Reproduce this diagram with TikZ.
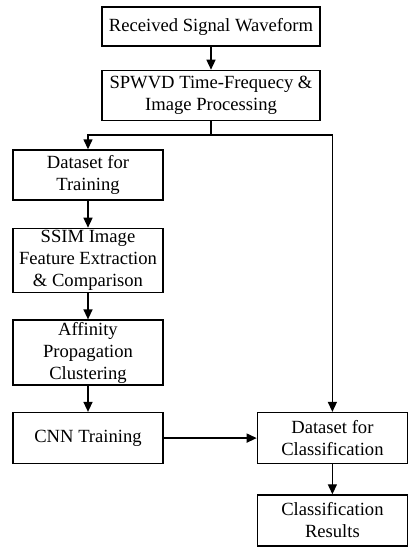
\documentclass[tikz,border=0pt]{standalone}
\usepackage{fontspec}
\setmainfont{Liberation Serif}
\usepackage{tikz}
\usetikzlibrary{arrows.meta,positioning}

\begin{document}
\begin{tikzpicture}[
  font=\fontsize{18.6}{22}\selectfont,
  stage/.style={
    rectangle, draw, line width=1.4pt, fill=white,
    minimum width=150pt, inner sep=2pt, align=center
  },
  arrow/.style={-{Triangle[length=10pt,width=9pt]}, line width=1.4pt}
]
\useasboundingbox (0,0) rectangle (416pt,-550pt);
% Top of the chain
\node[stage, minimum width=218pt, minimum height=39pt] (RSW) at (211pt,-26.5pt) {Received Signal Waveform};
\node[stage, minimum width=218pt, minimum height=50pt, below=23pt of RSW] (SPW) {SPWVD Time-Frequecy \&\\Image Processing};
% Training branch
\node[stage, minimum height=50pt] (DT) at (88pt,-175pt) {Dataset for\\Training};
\node[stage, minimum height=64pt, below=27pt of DT] (SSIM) {SSIM Image\\Feature Extraction\\\& Comparison};
\node[stage, minimum height=65pt, below=26pt of SSIM] (AP) {Affinity\\Propagation\\Clustering};
\node[stage, minimum height=51pt, below=26pt of AP] (CNN) {CNN Training};
% Classification branch
\node[stage, minimum height=51pt, right=93pt of CNN] (DC) {Dataset for\\Classification};
\node[stage, minimum height=51pt, below=30pt of DC] (CR) {Classification\\Results};

% Arrows
\draw[arrow] (RSW) -- (SPW);
\draw[line width=1.4pt] (SPW.south) -- ++(0,-14pt) coordinate (split);
\draw[arrow] (split) -| (DT.north);
\draw[arrow] (split) -| (DC.north);
\draw[arrow] (DT) -- (SSIM);
\draw[arrow] (SSIM) -- (AP);
\draw[arrow] (AP) -- (CNN);
\draw[arrow] (CNN) -- (DC);
\draw[arrow] (DC) -- (CR);
\end{tikzpicture}
\end{document}
